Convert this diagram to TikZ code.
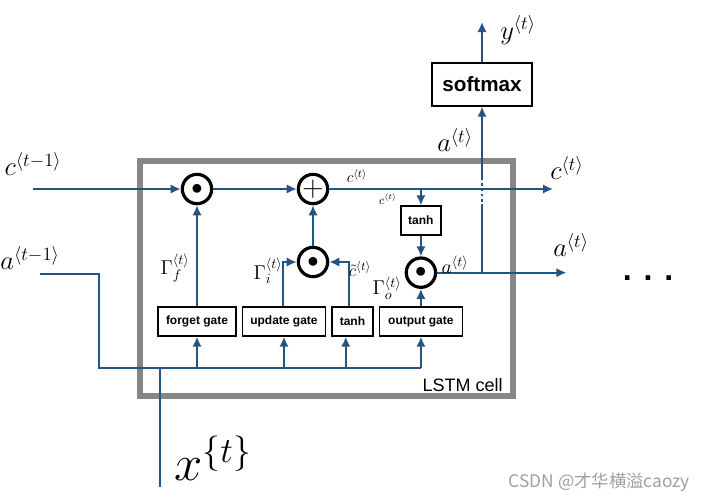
\RequirePackage{fix-cm}
\documentclass[tikz,border=0pt]{standalone}
\usepackage{fontspec}
\setsansfont{Liberation Sans}
\newfontfamily\cjkfont{Noto Sans CJK SC}
\usetikzlibrary{arrows.meta, positioning, calc}
\definecolor{wireblue}{RGB}{38,84,130}
\definecolor{framegray}{RGB}{135,135,135}

\begin{document}
\begin{tikzpicture}[
        x=0.75pt, y=-0.75pt,
        node distance=3.75pt,
        gate/.style={rectangle, draw=black, line width=1.1pt, fill=white, inner sep=0pt, minimum height=21.75pt, font=\sffamily\bfseries\fontsize{9}{10}\selectfont},
        op/.style={circle, draw=black, line width=2.4pt, fill=white, minimum size=22pt, inner sep=0pt},
        wire/.style={draw=wireblue, line width=1.4pt},
        arrow/.style={wire, -{Latex[length=7.5pt, width=7pt]}},
        biglabel/.style={inner sep=0pt, font=\fontsize{20}{24}\selectfont},
        midlabel/.style={inner sep=0pt, font=\fontsize{15}{17}\selectfont},
        smalllabel/.style={inner sep=0pt, font=\fontsize{9}{11}\selectfont}
    ]
    \useasboundingbox (0,0) rectangle (703,500);

    % LSTM cell frame
    \draw [framegray, line width=5pt] (140,161) rectangle (513,396);
    \node (cell_label) [anchor=base east, inner sep=0pt, font=\sffamily\fontsize{13.5}{16}\selectfont] at (503,391) {LSTM cell};

    % Gates (bottom row)
    \node (forget_gate) [gate, minimum width=58.5pt] at (197,321.5) {forget gate};
    \node (update_gate) [gate, minimum width=62.25pt, right=of forget_gate] {update gate};
    \node (tanh_gate) [gate, minimum width=30.75pt, right=of update_gate] {tanh};
    \node (output_gate) [gate, minimum width=62.25pt, right=of tanh_gate] {output gate};

    % Pointwise operations
    \node (f_mul) [op] at (197,189) {\fontsize{17}{17}\selectfont$\bullet$};
    \node (add) [op] at (313,189) {\fontsize{22}{22}\selectfont$+$};
    \node (u_mul) [op] at (313,262) {\fontsize{17}{17}\selectfont$\bullet$};
    \node (o_mul) [op, above=13pt of output_gate] {\fontsize{17}{17}\selectfont$\bullet$};
    \node (tanh_top) [gate, minimum width=30pt, above=15.5pt of o_mul] {tanh};
    \node (softmax) [gate, minimum width=75pt, minimum height=32.25pt, font=\sffamily\bfseries\fontsize{15.5}{18}\selectfont] at (482,84.5) {softmax};

    % Free ends
    \coordinate (c_start) at (33,189);
    \coordinate (c_end) at (553,189);
    \coordinate (a_start) at (40,274);
    \coordinate (bus_turn) at (99,368);
    \coordinate (x_bottom) at (160,487);
    \coordinate (a_end) at ($(o_mul)+(145.5,0)$);
    \coordinate (branch) at (o_mul -| softmax);
    \coordinate (bridge_lo) at (482,207);
    \coordinate (bridge_hi) at (482,178);
    \coordinate (y_end) at (482,22);

    % Cell state line
    \draw [arrow] (c_start) -- (f_mul);
    \draw [arrow] (f_mul) -- (add);
    \draw [arrow] (add) -- (c_end);
    \draw [arrow] (tanh_top.north |- add) -- (tanh_top);

    % Inputs a<t-1> and x<t>
    \draw [wire] (a_start) -| (bus_turn) -- (output_gate.south |- bus_turn);
    \draw [wire] (x_bottom) -- (x_bottom |- bus_turn);
    \foreach \g in {forget_gate, update_gate, output_gate}
        \draw [arrow] (\g.south |- bus_turn) -- (\g);
    \draw [arrow] ([xshift=-5pt]tanh_gate.south |- bus_turn) -- ([xshift=-5pt]tanh_gate.south);

    % Gate outputs
    \draw [arrow] (forget_gate) -- (f_mul);
    \draw [arrow] ([xshift=-1pt]update_gate.north) |- (u_mul);
    \draw [arrow] ([xshift=-2.5pt]tanh_gate.north) |- (u_mul);
    \draw [arrow] (u_mul) -- (add);
    \draw [arrow] (output_gate) -- (o_mul);
    \draw [arrow] (tanh_top) -- (o_mul);

    % Hidden state and softmax
    \draw [arrow] (o_mul) -- (a_end);
    \draw [wire] (branch) -- (bridge_lo);
    \draw [wire, dash pattern=on 2pt off 2pt] (bridge_lo) -- (bridge_hi);
    \draw [arrow] (bridge_hi) -- (softmax);
    \draw [arrow] (softmax) -- (y_end);

    % Labels
    \node (c_prev) [biglabel] at (33,164) {$c^{\langle t-1\rangle}$};
    \node (a_prev) [biglabel] at (30,258) {$a^{\langle t-1\rangle}$};
    \node (c_next) [biglabel] at (567,168) {$c^{\langle t\rangle}$};
    \node (a_next) [biglabel] at (571,245) {$a^{\langle t\rangle}$};
    \node (y_label) [biglabel] at (518,30) {$y^{\langle t\rangle}$};
    \node (a_soft) [biglabel] at (455,140) {$a^{\langle t\rangle}$};
    \node (x_label) [inner sep=0pt, font=\fontsize{38}{40}\selectfont] at (213,458) {$x^{\{t\}}$};
    \node (more) [inner sep=0pt, font=\sffamily\bfseries\fontsize{24}{24}\selectfont] at (648,278) {. . .};
    \node (c_cur) [inner sep=0pt, font=\fontsize{12}{14}\selectfont] at (357,176) {$c^{\langle t\rangle}$};
    \node (c_tanh) [smalllabel] at (388,199) {$c^{\langle t\rangle}$};
    \node (gamma_f) [midlabel] at (175,268) {$\Gamma_f^{\langle t\rangle}$};
    \node (gamma_i) [midlabel] at (268,271) {$\Gamma_i^{\langle t\rangle}$};
    \node (c_tilde) [inner sep=0pt, font=\fontsize{13}{15}\selectfont] at (360,269) {$\tilde{c}^{\langle t\rangle}$};
    \node (gamma_o) [midlabel] at (387,288) {$\Gamma_o^{\langle t\rangle}$};
    \node (a_cur) [midlabel] at (455,265) {$a^{\langle t\rangle}$};
    \node (mark) [anchor=east, inner sep=0pt, text=gray!75, font=\cjkfont\fontsize{13}{15}\selectfont] at (690,482) {CSDN @才华横溢caozy};

\end{tikzpicture}
\end{document}
